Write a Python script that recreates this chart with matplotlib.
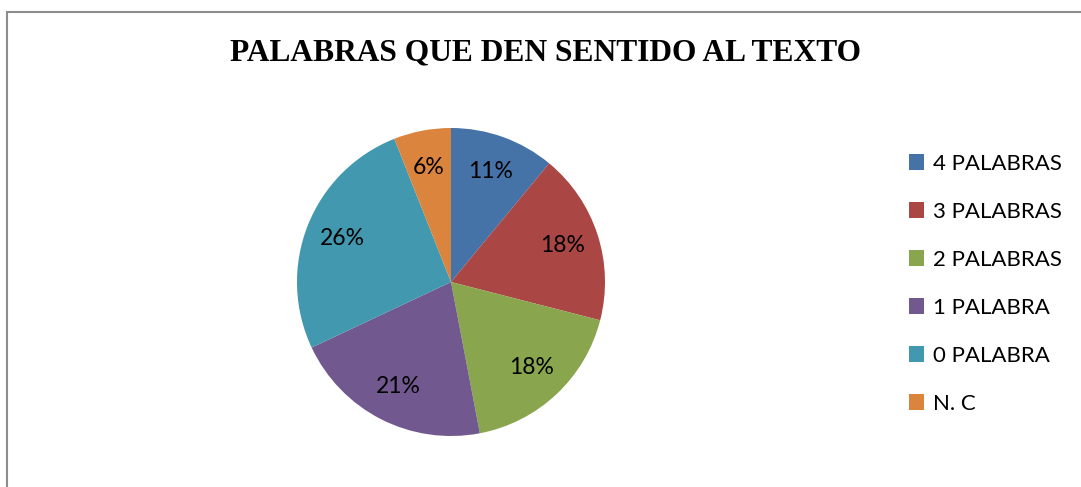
import matplotlib.pyplot as plt
from matplotlib.patches import Rectangle

# datos del grafico
categorias = ['4 PALABRAS', '3 PALABRAS', '2 PALABRAS', '1 PALABRA', '0 PALABRA', 'N. C']
porcentajes = [11, 18, 18, 21, 26, 6]
colores = ['#4572A7', '#AA4643', '#89A54E', '#71588F', '#4198AF', '#DB843D']
titulo = 'PALABRAS QUE DEN SENTIDO AL TEXTO'

fig = plt.figure(figsize=(10.81, 4.87), dpi=100)

# marco gris alrededor del grafico
fig.patches.append(Rectangle((6.5 / 1081, -0.1), 1.2, (487 - 11.5) / 487 + 0.1,
                             transform=fig.transFigure, fill=False,
                             edgecolor='#8c8c8c', linewidth=1.5))

ax = fig.add_axes([297 / 1081, 51 / 487, 308 / 1081, 308 / 487])
wedges, texts, autotexts = ax.pie(porcentajes, colors=colores, startangle=90,
                                  counterclock=False, radius=1,
                                  autopct='%1.0f%%', pctdistance=0.76,
                                  textprops=dict(fontsize=16.5, family='Lato', color='black'))
ax.set_xlim(-1, 1)
ax.set_ylim(-1, 1)
ax.axis('off')

fig.text(545 / 1081, 1 - 53 / 487, titulo, ha='center', va='center',
         fontsize=22.7, fontweight='bold', family='Liberation Serif')

fig.legend(wedges, categorias, loc='upper left',
           bbox_to_anchor=(900 / 1081, 1 - 145 / 487),
           frameon=False, prop=dict(family='Lato', size=16),
           handlelength=0.7, handleheight=0.7, handletextpad=0.4,
           labelspacing=1.26, borderaxespad=0)

plt.savefig('out.png', dpi=100)
